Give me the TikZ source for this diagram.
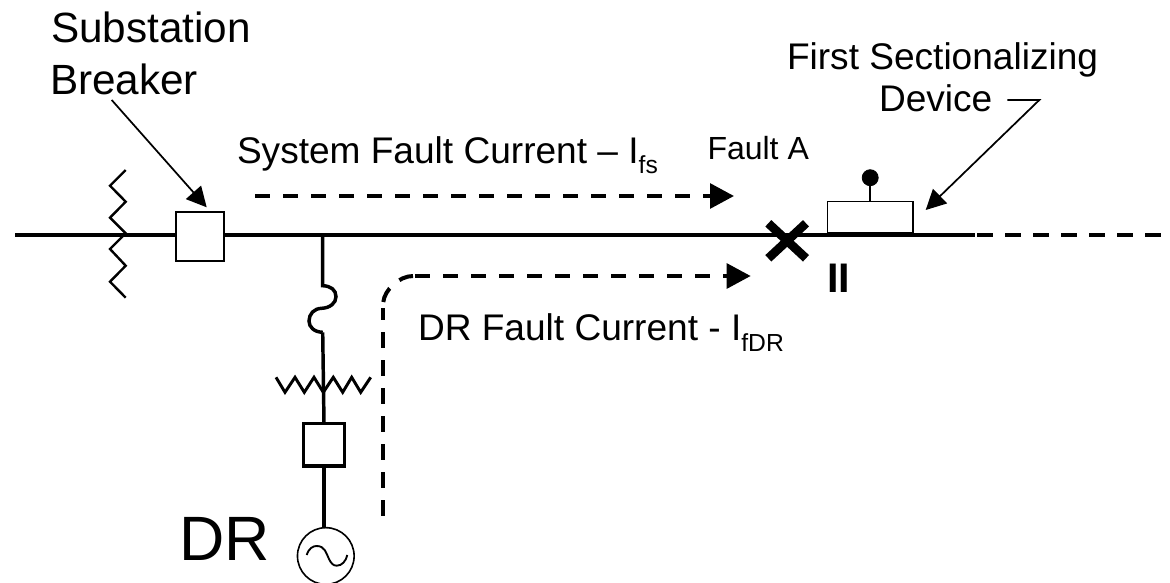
\documentclass[tikz,border=0pt]{standalone}
\usepackage{fontspec}
\setmainfont{Liberation Sans}
\usetikzlibrary{arrows.meta}
\newcommand{\fsA}{\fontsize{27.8}{32}\selectfont}
\newcommand{\fsC}{\fontsize{31.7}{36}\selectfont}
\newcommand{\fsB}{\fontsize{24}{28}\selectfont}
\newcommand{\fsSub}{\fontsize{18.5}{20}\selectfont}
\newcommand{\fsDR}{\fontsize{47}{56}\selectfont}
\newcommand{\fsII}{\bfseries\fontsize{31}{36}\selectfont}
\tikzset{
  px/.style={x=0.75pt,y=-0.75pt},
  label text/.style={anchor=base west,inner sep=0pt,outer sep=0pt,font=\fsA},
  bus/.style={line width=3pt},
  busdash/.style={line width=3pt,dash pattern=on 12pt off 9pt},
  stub/.style={line width=2.6pt},
  zig/.style={line width=1.8pt,line join=miter},
  thinbox/.style={draw,line width=1.3pt,fill=white,inner sep=0pt,outer sep=0pt},
  thickbox/.style={draw,line width=2.8pt,fill=white,inner sep=0pt,outer sep=0pt},
  currentline/.style={line width=3pt,dash pattern=on 11.5pt off 9.5pt},
  currenttip/.style={currentline,-{Triangle[length=18pt,width=18.5pt]}},
  leader/.style={line width=1.3pt,-{Triangle[length=15pt,width=15pt]}},
}
\begin{document}
\begin{tikzpicture}[px]
\useasboundingbox (0,0) rectangle (1170,582);
\clip (0,0) rectangle (1170,582);
\fill[white] (0,0) rectangle (1170,582);
% anchors
\coordinate (busL) at (15,235);
\coordinate (busJ) at (322.7,235);
\coordinate (busR) at (975,235);
\coordinate (busDashA) at (977,235);
\coordinate (busEnd) at (1161,235);
\coordinate (fuseT) at (322.7,285.7);
\coordinate (fuseB) at (322.7,332.3);
% main line and devices
\draw[bus] (busL) -- (busR);
\draw[busdash] (busDashA) -- (busEnd);
\node[thinbox,minimum width=36pt,minimum height=36.5pt] (sb) at (200,236.5) {};
\node[thinbox,minimum width=64pt,minimum height=24pt,anchor=south] (rec) at (870.2,233.6) {};
\draw[bus] (rec.south west) -- (rec.south east);
\coordinate (ballC) at (870.2,177.7);
\draw[line width=1.6pt] (rec.north) -- (ballC);
\node[circle,fill=black,draw=black,line width=0.6pt,minimum size=12pt,inner sep=0pt] (ball) at (ballC) {};
% left zigzag
\draw[zig] (125.7,170) -- (110,185.7) -- (125.7,201.7) -- (110,217.7) -- (125.7,233.3) -- (110,249) -- (125.7,265.7) -- (110,281.7) -- (125.7,297.7);
% branch
\draw[stub] (busJ) -- (fuseT)
  .. controls (331,286) and (336,290) .. (336,296.7)
  .. controls (336,303) and (330,308) .. (321.7,308.3)
  .. controls (314,308.5) and (309,314) .. (309,321)
  .. controls (309,327) and (314,332) .. (fuseB);
\node[thickbox,minimum width=30.8pt,minimum height=31.9pt] (drb) at (324,444.7) {};
\draw[stub] (fuseB) -- (drb.north);
\draw[zig,line width=2.2pt] (276,377.3) -- (285,392.3) -- (295,377.3) -- (304.3,392.3) -- (314,377.3) -- (323.3,392.3) -- (333.3,377.3) -- (342.7,392.3) -- (351.7,377.3) -- (360.7,392.3) -- (370.7,377.3);
\node[circle,draw,line width=1.2pt,minimum size=42.5pt,inner sep=0pt,outer sep=0pt] (gen) at (325.8,556) {};
\draw[stub] (drb.south) -- (drb.south |- gen.north);
\draw[line width=1.4pt] (306.7,555) .. controls (309,548) and (313,546) .. (316.7,546)
  .. controls (325,546) and (326,553) .. (329,559)
  .. controls (331,563) and (333,565.7) .. (336.7,565.7)
  .. controls (342,565.7) and (346,561) .. (347.3,555);
% fault cross
\coordinate (faultC) at (787,240.7);
\draw[line width=6.6pt] (768.3,223.3) -- (806,258.3);
\draw[line width=6.6pt] (806,223.3) -- (768.3,258.3);
% current paths
\coordinate (fsS) at (255,196);
\coordinate (fsE) at (734,196);
\draw[currenttip] (fsS) -- (fsE);
\coordinate (drS) at (383,515.7);
\coordinate (drK) at (383,308.3);
\coordinate (drC) at (383.3,302);
\coordinate (drH) at (413,276);
\coordinate (drG) at (415,276);
\coordinate (drE) at (750.7,276);
\draw[currentline] (drS) -- (drK);
\draw[currentline] (drC) .. controls (384.5,290) and (399,276) .. (drH);
\draw[currenttip] (drG) -- (drE);
% leaders
\coordinate (sbL) at (111.7,100);
\coordinate (sbT) at (206.7,207.3);
\draw[leader] (sbL) -- (sbT);
\coordinate (recA) at (1007.3,100);
\coordinate (recB) at (1039.3,100);
\coordinate (recT) at (925.7,210);
\draw[leader,line join=miter] (recA) -- (recB) -- (recT);
% labels
\node[label text,font=\fsC] (t1) at (51,42.7) {Substation};
\node[label text,font=\fsC] (t2) at (50,94) {Breaker};
\node[label text] (t3) at (237,163.3) {System Fault Current – I\raisebox{-8pt}{\fsSub fs}};
\node[label text,font=\fsB] (t4) at (707.5,159.3) {Fault A};
\node[label text] (t5) at (787,69.3) {First Sectionalizing};
\node[label text] (t6) at (879,111.7) {Device};
\node[label text] (t7) at (418,340.7) {DR Fault Current - I\raisebox{-8pt}{\fsSub fDR}};
\node[label text,font=\fsII] (t8) at (827.4,292.3) {II};
\node[label text,font=\fsDR] (t9) at (179.5,560) {DR};
\end{tikzpicture}
\end{document}
